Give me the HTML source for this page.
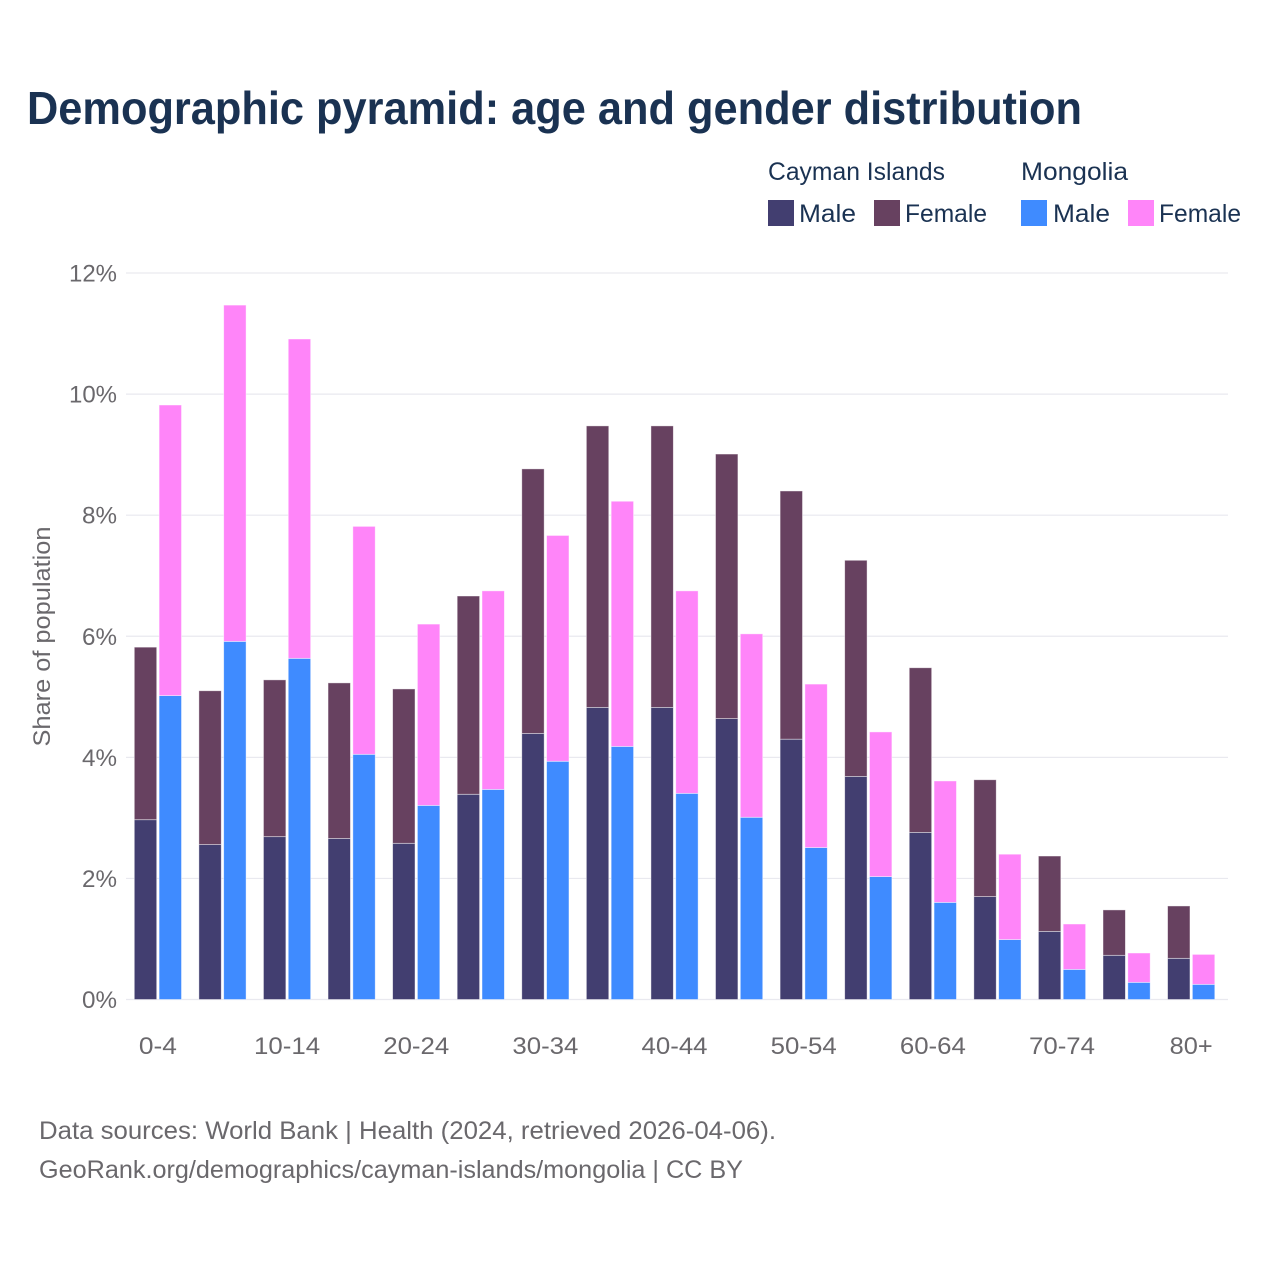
<!DOCTYPE html>
<html lang="en">
<head>
<meta charset="utf-8">
<title>Demographic pyramid: age and gender distribution</title>
<style>
html,body{margin:0;padding:0;background:#fff;width:1280px;height:1280px;overflow:hidden}
svg{display:block}
text{font-family:"Liberation Sans",Arial,sans-serif}
</style>
</head>
<body>
<svg id="chart" xmlns="http://www.w3.org/2000/svg" width="1280" height="1280" viewBox="0 0 1280 1280">
  <rect x="0" y="0" width="1280" height="1280" fill="#ffffff"/>
  <text x="27" y="124" font-size="46" font-weight="700" fill="#1a3252" textLength="1055" lengthAdjust="spacingAndGlyphs">Demographic pyramid: age and gender distribution</text>

  <g font-size="25" fill="#1a3252">
    <text x="768" y="180" textLength="177" lengthAdjust="spacingAndGlyphs">Cayman Islands</text>
    <text x="1021" y="180" textLength="107" lengthAdjust="spacingAndGlyphs">Mongolia</text>
    <rect x="768" y="200" width="26" height="26" fill="#423e70"/>
    <text x="799" y="222" textLength="57" lengthAdjust="spacingAndGlyphs">Male</text>
    <rect x="874" y="200" width="26" height="26" fill="#674160"/>
    <text x="905" y="222" textLength="82" lengthAdjust="spacingAndGlyphs">Female</text>
    <rect x="1021" y="200" width="26" height="26" fill="#3f8bff"/>
    <text x="1053" y="222" textLength="57" lengthAdjust="spacingAndGlyphs">Male</text>
    <rect x="1128" y="200" width="26" height="26" fill="#ff85f9"/>
    <text x="1159" y="222" textLength="82" lengthAdjust="spacingAndGlyphs">Female</text>
  </g>

  <g id="grid"></g>
  <g id="yticks"></g>
  <g id="bars"></g>
  <g id="xticks"></g>

  <text transform="translate(50,636.5) rotate(-90)" text-anchor="middle" font-size="24" fill="#6a686c" textLength="220" lengthAdjust="spacingAndGlyphs">Share of population</text>

  <g font-size="25" fill="#6a686c">
    <text x="39" y="1139" textLength="737" lengthAdjust="spacingAndGlyphs">Data sources: World Bank | Health (2024, retrieved 2026-04-06).</text>
    <text x="39" y="1178" textLength="704" lengthAdjust="spacingAndGlyphs">GeoRank.org/demographics/cayman-islands/mongolia | CC BY</text>
  </g>
</svg>
<script>
const categories = ["0-4","5-9","10-14","15-19","20-24","25-29","30-34","35-39","40-44","45-49","50-54","55-59","60-64","65-69","70-74","75-79","80+"];
const xTickLabels = ["0-4","","10-14","","20-24","","30-34","","40-44","","50-54","","60-64","","70-74","","80+"];
const yTicks = [0,2,4,6,8,10,12];
const caymanMale = [2.97,2.56,2.69,2.66,2.58,3.39,4.395,4.825,4.825,4.64,4.30,3.685,2.76,1.70,1.125,0.73,0.68];
const caymanFemale = [2.85,2.54,2.59,2.57,2.55,3.275,4.37,4.65,4.65,4.37,4.10,3.57,2.72,1.93,1.245,0.75,0.865];
const mongoliaMale = [5.02,5.915,5.635,4.05,3.206,3.47,3.935,4.18,3.405,3.01,2.51,2.03,1.604,0.99,0.497,0.283,0.25];
const mongoliaFemale = [4.80,5.555,5.275,3.765,2.995,3.28,3.73,4.05,3.345,3.03,2.70,2.39,2.006,1.41,0.75,0.485,0.495];

const NS = "http://www.w3.org/2000/svg";
const plotLeft = 126, plotRight = 1228, y0 = 999.5, pxPerPct = 60.54;
const firstCenter = 157.9, bandStep = 64.58, barW = 22.4, barGap = 1.2;
function yScale(v){ return y0 - v * pxPerPct; }
function xCenter(i){ return firstCenter + i * bandStep; }

const grid = document.getElementById("grid");
const yticksG = document.getElementById("yticks");
const barsG = document.getElementById("bars");
const xticksG = document.getElementById("xticks");

yTicks.forEach(function(t){
  const l = document.createElementNS(NS,"line");
  
  
  l.setAttribute("x1", plotLeft);
  l.setAttribute("x2", plotRight);
  l.setAttribute("y1", yScale(t));
  l.setAttribute("y2", yScale(t));
  l.setAttribute("stroke", "#e9e9ef");
  l.setAttribute("stroke-width", "1.2");
  grid.appendChild(l);
  const s = document.createElementNS(NS,"text");
  
  
  s.setAttribute("x", 117);
  s.setAttribute("y", yScale(t) + 8.5);
  s.setAttribute("text-anchor", "end");
  s.setAttribute("font-size", "24");
  s.setAttribute("fill", "#6a686c");
  s.textContent = t + "%";
  s.setAttribute("textLength", t >= 10 ? 48 : 35);
  s.setAttribute("lengthAdjust", "spacingAndGlyphs");
  yticksG.appendChild(s);
});

function addBar(x, v0, v1, fill, name){
  const r = document.createElementNS(NS,"rect");
  
  
  r.setAttribute("x", x);
  r.setAttribute("width", barW);
  r.setAttribute("y", yScale(v1));
  r.setAttribute("height", yScale(v0) - yScale(v1));
  r.setAttribute("fill", fill);
  r.setAttribute("stroke", "#ffffff");
  r.setAttribute("stroke-opacity", "0.55");
  r.setAttribute("stroke-width", "0.8");
  barsG.appendChild(r);
}

categories.forEach(function(c, i){
  const cx = xCenter(i);
  const xa = cx - barGap - barW;
  const xb = cx + barGap;
  addBar(xa, 0, caymanMale[i], "#423e70", "bar-cayman-male");
  addBar(xa, caymanMale[i], caymanMale[i] + caymanFemale[i], "#674160", "bar-cayman-female");
  addBar(xb, 0, mongoliaMale[i], "#3f8bff", "bar-mongolia-male");
  addBar(xb, mongoliaMale[i], mongoliaMale[i] + mongoliaFemale[i], "#ff85f9", "bar-mongolia-female");
  if (xTickLabels[i]) {
    const s = document.createElementNS(NS,"text");
    
    
    s.setAttribute("x", cx);
    s.setAttribute("y", 1054);
    s.setAttribute("text-anchor", "middle");
    s.setAttribute("font-size", "24");
    s.setAttribute("fill", "#6a686c");
    s.textContent = xTickLabels[i];
    const len = xTickLabels[i].length;
    s.setAttribute("textLength", len === 3 ? (xTickLabels[i] === "80+" ? 43 : 38) : 66);
    s.setAttribute("lengthAdjust", "spacingAndGlyphs");
    xticksG.appendChild(s);
  }
});
</script>
</body>
</html>
